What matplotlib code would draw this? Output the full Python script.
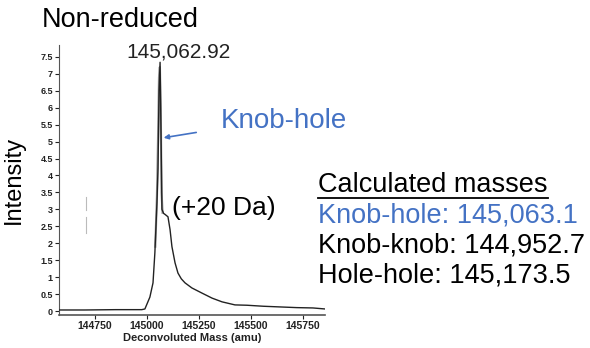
import matplotlib
matplotlib.use("Agg")
import matplotlib.pyplot as plt

plt.rcParams['font.family'] = ['Liberation Sans', 'DejaVu Sans']

# 质谱数据
mass = [144577, 144700, 144850, 144975, 144990, 145014, 145029, 145038, 145048,
        145053, 145058, 145063, 145067, 145072, 145080, 145087, 145101, 145111,
        145120, 145135, 145149, 145165, 145183, 145216, 145264, 145313, 145361,
        145423, 145481, 145560, 145640, 145720, 145798, 145856]
intensity = [0.03, 0.03, 0.04, 0.04, 0.06, 0.41, 0.83, 1.72, 3.2,
             4.2, 6.5, 7.34, 5.5, 3.0, 2.88, 2.85, 2.78, 2.4,
             1.9, 1.42, 1.12, 0.95, 0.83, 0.68, 0.53, 0.38, 0.27,
             0.18, 0.17, 0.14, 0.12, 0.1, 0.09, 0.06]
# 灰色的第二条曲线 (峰附近)
mass2 = [145040, 145048, 145053, 145058, 145062, 145066, 145070, 145075]
intensity2 = [1.9, 3.4, 5.0, 6.9, 7.2, 6.0, 3.5, 2.9]

yticks = [0, 0.5, 1, 1.5, 2, 2.5, 3, 3.5, 4, 4.5, 5, 5.5, 6, 6.5, 7, 7.5]
xticks = [144750, 145000, 145250, 145500, 145750]

peak_label = "145,062.92"
calc_lines = ["Knob-hole: 145,063.1", "Knob-knob: 144,952.7", "Hole-hole: 145,173.5"]
calc_colors = ["#4472C4", "black", "black"]
blue = "#4472C4"

W, H = 590, 348
fig = plt.figure(figsize=(W / 100, H / 100), dpi=100)

def fx(px):
    return px / W

def fy(py):
    return 1 - py / H

ax = fig.add_axes([fx(59), fy(315), fx(325) - fx(59), fy(45) - fy(315)])
ax.plot(mass2, intensity2, color="#9a9a9a", lw=1.6, zorder=2)
ax.plot(mass, intensity, color="#222222", lw=1.0, zorder=3)
# 零散的灰色小线段
ax.plot([144707, 144707], [2.99, 3.37], color="#bbbbbb", lw=0.8)
ax.plot([144707, 144707], [2.31, 2.78], color="#bbbbbb", lw=0.8)

ax.set_xlim(144577, 145856)
ax.set_ylim(-0.118, 7.85)
ax.set_xticks(xticks)
ax.set_yticks(yticks)
ax.set_yticklabels(["%g" % v for v in yticks])
ax.tick_params(axis="y", labelsize=6.5, length=3, width=0.8, pad=1.5, colors="#222222")
ax.tick_params(axis="x", labelsize=7.5, length=3, width=0.8, pad=1.5, colors="#222222")
for t in ax.get_xticklabels() + ax.get_yticklabels():
    t.set_fontweight("bold")
ax.spines["top"].set_visible(False)
ax.spines["right"].set_visible(False)
ax.spines["left"].set_color("#555555")
ax.spines["bottom"].set_color("#555555")
ax.spines["bottom"].set_linewidth(1.2)
ax.set_xlabel("Deconvoluted Mass (amu)", fontsize=8, fontweight="bold", labelpad=1, color="#222222")

fig.text(fx(14), fy(180), "Intensity", rotation=90, ha="center", va="center", fontsize=17)
fig.text(fx(42), fy(20), "Non-reduced", ha="left", va="center", fontsize=19.5)
fig.text(fx(178), fy(52), peak_label, ha="center", va="center", fontsize=15, color="#222222")
fig.text(fx(221), fy(121), "Knob-hole", ha="left", va="center", fontsize=20, color=blue)
fig.text(fx(172), fy(208), "(+20 Da)", ha="left", va="center", fontsize=19)

ax.annotate("", xy=(145067, 5.1), xycoords="data",
            xytext=(fx(199), fy(132)), textcoords="figure fraction",
            arrowprops=dict(arrowstyle="-|>", color=blue, lw=1.2, mutation_scale=7))

fig.text(fx(318), fy(185), "Calculated masses", ha="left", va="center", fontsize=19.5)
# 下划线
fig.add_artist(plt.Line2D([fx(318), fx(548)], [fy(198), fy(198)], color="black", lw=1.3))
for i, (s, c) in enumerate(zip(calc_lines, calc_colors)):
    fig.text(fx(318), fy(215 + 30.5 * i), s, ha="left", va="center", fontsize=19.5, color=c)

fig.savefig("out.png", dpi=100)
